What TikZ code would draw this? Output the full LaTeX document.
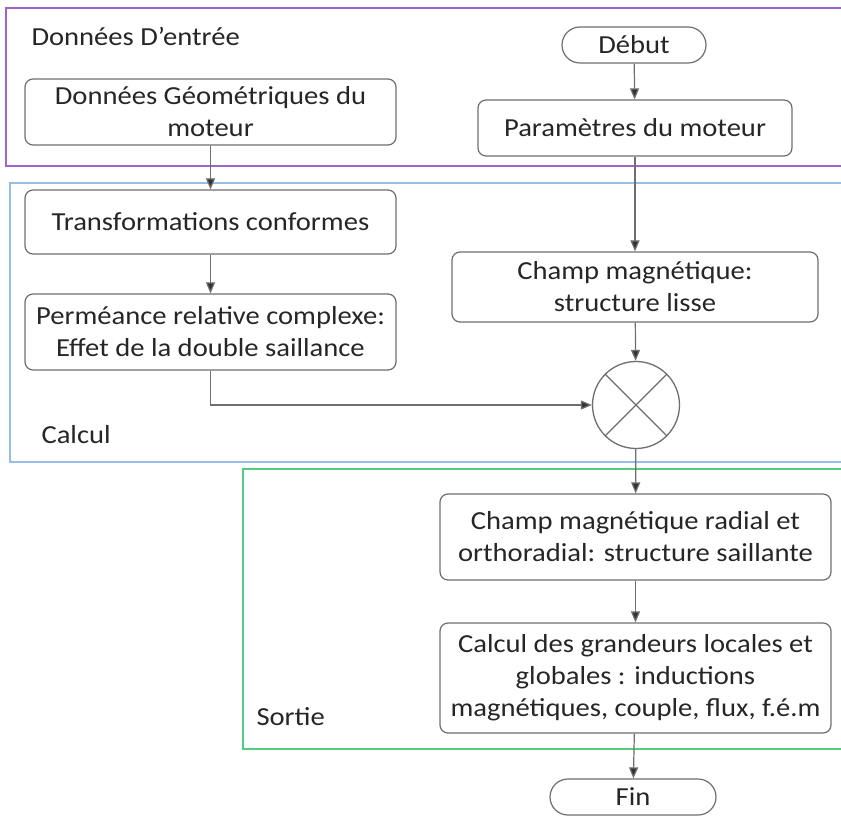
\documentclass[tikz,border=0pt]{standalone}
\usepackage{fontspec}
\setmainfont{Carlito}[FakeStretch=1.1]
\usetikzlibrary{arrows.meta,shapes.misc}
\definecolor{fpurple}{RGB}{160,100,205}
\definecolor{fblue}{RGB}{150,190,230}
\definecolor{fgreen}{RGB}{80,205,125}
\definecolor{lgray}{RGB}{110,110,110}
\begin{document}
\begin{tikzpicture}[x=1pt,y=-1pt,
  txt/.style={font=\fontsize{26}{32}\selectfont,text=black!85},
  box/.style={txt,draw=lgray,line width=1.2pt,rounded corners=8pt,align=center,inner sep=2pt},
  term/.style={txt,draw=lgray,line width=1.2pt,rounded rectangle,inner sep=2pt},
  arr/.style={draw=lgray,line width=1.2pt,-{Triangle[length=11pt,width=9pt,fill=black!80]}},
  frame/.style={line width=1.3pt},
  lab/.style={txt,anchor=west}]
\useasboundingbox (0,0) rectangle (841,818);
% frames
\draw[frame,fpurple] (850,8) -- (6,8) -- (6,166) -- (850,166);
\draw[frame,fblue] (850,183) -- (10,183) -- (10,462) -- (850,462);
\draw[frame,fgreen] (850,469) -- (243,469) -- (243,749) -- (850,749);
\node[lab] (l1) at (28,36) {Données D’entrée};
\node[lab] (l2) at (38,435) {Calcul};
\node[lab] (l3) at (253,717) {Sortie};
% nodes
\node[term,minimum width=148pt,minimum height=36pt] (debut) at (634,45) {Début};
\node[box,minimum width=371pt,minimum height=66pt] (geo) at (210.5,112) {Données Géométriques du\\moteur};
\node[box,minimum width=314pt,minimum height=56pt] (param) at (635,128) {Paramètres du moteur};
\node[box,minimum width=371pt,minimum height=64pt] (transf) at (210.5,222) {Transformations conformes};
\node[box,minimum width=371pt,minimum height=76pt] (perm) at (210.5,332) {Perméance relative complexe:\\Effet de la double saillance};
\node[box,minimum width=366pt,minimum height=70pt] (lisse) at (635,287) {Champ magnétique:\\structure lisse};
\node[circle,draw=lgray,line width=1.3pt,minimum size=87pt,inner sep=0pt] (mul) at (636,405) {};
\draw[lgray,line width=1.2pt] (mul.45) -- (mul.225) (mul.135) -- (mul.-45);
\node[box,minimum width=391pt,minimum height=86pt] (radial) at (635.5,537) {Champ magnétique radial et\\orthoradial: structure saillante};
\node[box,minimum width=391pt,minimum height=110pt] (glob) at (635.5,678) {Calcul des grandeurs locales et\\globales : inductions\\magnétiques, couple, flux, f.é.m};
\node[term,minimum width=170pt,minimum height=36pt] (fin) at (633,797) {Fin};
% arrows
\draw[arr] (debut) -- (param);
\draw[arr] (geo) -- (transf);
\draw[arr] (transf) -- (perm);
\draw[arr] (param) -- (lisse);
\draw[arr] (lisse) -- (mul);
\draw[arr] (perm.south) |- (mul.west);
\draw[arr] (mul) -- (radial);
\draw[arr] (radial) -- (glob);
\draw[arr] (glob) -- (fin);
\end{tikzpicture}
\end{document}
